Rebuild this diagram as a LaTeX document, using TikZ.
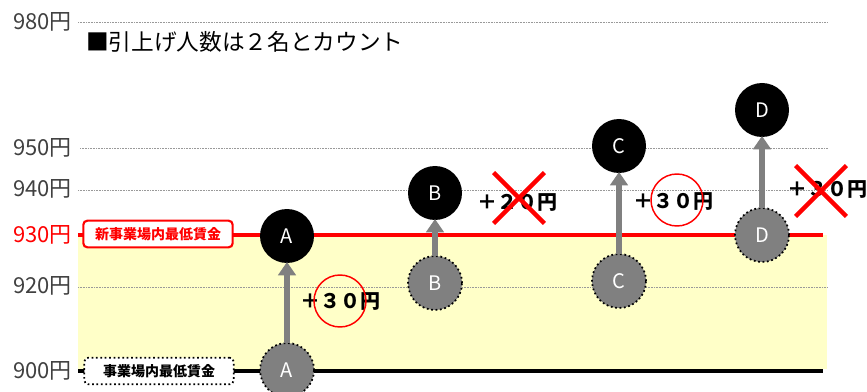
\documentclass[tikz,border=0pt]{standalone}
\usepackage{fontspec}
\setmainfont{Noto Sans CJK JP}
\usetikzlibrary{arrows.meta,shapes.misc}
\definecolor{ylw}{HTML}{FFFFC8}
\definecolor{gr}{HTML}{808080}
\definecolor{axtxt}{HTML}{404040}
\begin{document}
\begin{tikzpicture}[x=0.75pt,y=-0.75pt,
  grid/.style={gray!80,line width=0.7pt,dash pattern=on 0.8pt off 0.4pt},
  axlab/.style={anchor=east,inner sep=0pt,text=axtxt,font=\fontsize{16.5}{18}\selectfont},
  topc/.style={circle,fill=black,minimum size=40.5pt,inner sep=0pt,text=white,font=\fontsize{15}{16}\selectfont},
  botc/.style={circle,fill=gr,draw=black,dotted,line width=1.3pt,minimum size=40.5pt,inner sep=0pt,text=white,font=\fontsize{15}{16}\selectfont},
  uparrow/.style={gr,line width=4.5pt,-{Triangle[width=13pt,length=10pt]},shorten <=-1pt,shorten >=-1pt},
  plus/.style={inner sep=0pt,font=\bfseries\fontsize{15}{16}\selectfont},
  okring/.style={circle,draw=red,line width=1.1pt,minimum size=39pt,inner sep=0pt},
  ngcross/.style={cross out,draw=red,line width=3.2pt,minimum size=35pt,inner sep=0pt},
  minbox/.style={rounded corners=3pt,fill=white,minimum width=112pt,minimum height=20pt,inner sep=0pt,font=\bfseries\fontsize{10.5}{12}\selectfont}
]
\useasboundingbox (0,0) rectangle (867,392);
% yellow band
\fill[ylw] (78,235) rectangle (827,369);
% grid lines
\draw[grid] (78,22) -- (828,22);
\draw[grid] (80,148) -- (828,148);
\draw[grid] (78,190) -- (828,190);
\draw[grid] (78,287) -- (827,287);
% level lines
\draw[red,line width=2.3pt] (78,235) -- (823,235);
\draw[black,line width=2.3pt] (78,371) -- (823,371);
% axis labels
\node[axlab] (l980) at (72,22) {980円};
\node[axlab] (l950) at (72,148) {950円};
\node[axlab] (l940) at (72,189) {940円};
\node[axlab,text=red] (l930) at (72,235) {930円};
\node[axlab] (l920) at (72,286) {920円};
\node[axlab] (l900) at (72,371) {900円};
% title
\node[anchor=west,inner sep=0pt,font=\fontsize{17}{18}\selectfont] (title) at (86,42) {■引上げ人数は２名とカウント};
% boxes
\node[minbox,draw=red,line width=1.6pt,text=red] (newmin) at (158,234) {新事業場内最低賃金};
\node[minbox,draw=black,dotted,line width=1.3pt,text=black] (oldmin) at (159,371) {事業場内最低賃金};
% circles
\node[botc] (a0) at (287,370) {A};
\node[topc] (a1) at (287,236) {A};
\node[botc] (b0) at (435,283) {B};
\node[topc] (b1) at (435,193) {B};
\node[botc] (c0) at (619,281) {C};
\node[topc] (c1) at (619,146) {C};
\node[botc] (d0) at (762,235) {D};
\node[topc] (d1) at (762,110) {D};
% arrows
\draw[uparrow] (a0.north) -- (a1.south);
\draw[uparrow] (b0.north) -- (b1.south);
\draw[uparrow] (c0.north) -- (c1.south);
\draw[uparrow] (d0.north) -- (d1.south);
% increments
\node[plus] (pa) at (340,302) {＋３０円};
\node[okring] (ra) at (340,301) {};
\node[plus] (pb) at (517,203) {＋２０円};
\node[ngcross] (xb) at (519,198) {};
\node[plus] (pc) at (673,202) {＋３０円};
\node[okring] (rc) at (677,200) {};
\node[plus] (pd) at (827,190) {＋３０円};
\node[ngcross] (xd) at (821,191) {};
\end{tikzpicture}
\end{document}
